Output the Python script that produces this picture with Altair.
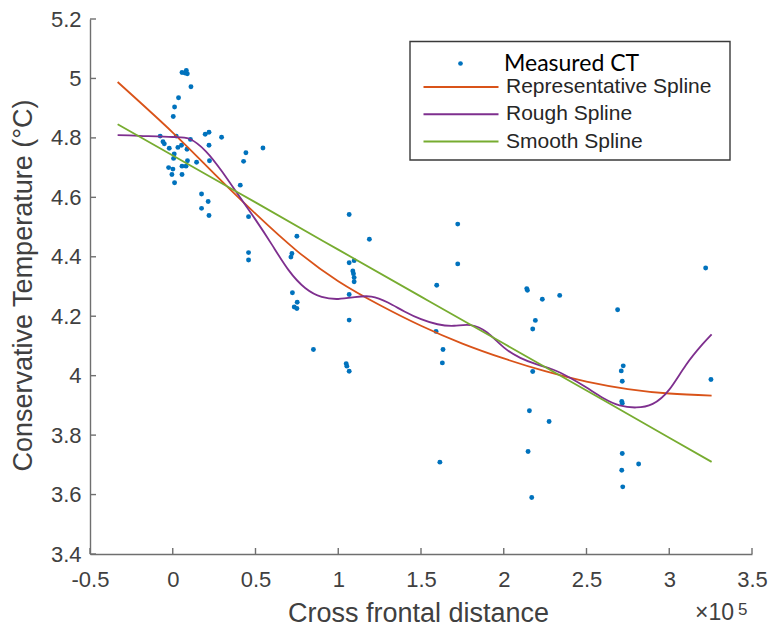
import altair as alt
import pandas as pd

# Measured CT (x in units of 1e5)
ct_x = [0.056, 0.082, 0.088, 0.074, 0.110, 0.035, 0.011, 0.003, -0.076, -0.059,
        -0.051, -0.021, 0.021, 0.031, 0.053, 0.086, 0.107, 0.196, 0.219, 0.295,
        0.219, 0.009, 0.005, -0.025, 0.001, -0.005, 0.056, 0.080, 0.089, 0.144,
        0.056, 0.011, 0.222, 0.442, 0.428, 0.545, 0.408, 0.174, 0.214, 0.174,
        0.219, 0.458, 0.458, 0.458, 0.750, 0.720, 0.714, 0.723, 0.752, 0.734,
        0.750, 0.850, 1.066, 1.066, 1.096, 1.088, 1.092, 1.096, 1.096, 1.066,
        1.066, 1.048, 1.052, 1.066, 1.188,
        1.722, 1.722, 1.595, 1.591, 1.633, 1.629, 1.614,
        2.139, 2.143, 2.233, 2.338, 2.191, 2.175, 2.175, 2.155, 2.274, 2.147, 2.169,
        2.688, 2.722, 2.710, 2.716, 2.713, 2.716, 2.716, 2.815, 2.713, 2.719,
        3.220, 3.252]
ct_y = [5.020, 5.027, 5.016, 5.018, 4.972, 4.935, 4.904, 4.872, 4.806, 4.787,
        4.780, 4.765, 4.806, 4.768, 4.775, 4.762, 4.795, 4.812, 4.819, 4.802,
        4.775, 4.746, 4.731, 4.700, 4.695, 4.677, 4.705, 4.705, 4.723, 4.718,
        4.677, 4.649, 4.723, 4.750, 4.721, 4.766, 4.641, 4.611, 4.586, 4.563,
        4.539, 4.535, 4.414, 4.389, 4.469, 4.411, 4.399, 4.279, 4.247, 4.231,
        4.226, 4.088, 4.542, 4.380, 4.387, 4.352, 4.343, 4.330, 4.316, 4.273,
        4.187, 4.040, 4.032, 4.015, 4.459,
        4.510, 4.376, 4.304, 4.149, 4.088, 4.043, 3.709,
        4.293, 4.287, 4.257, 4.270, 4.186, 4.157, 4.014, 3.882, 3.846, 3.745, 3.590,
        4.222, 4.033, 4.016, 3.981, 3.913, 3.907, 3.738, 3.703, 3.682, 3.626,
        4.362, 3.987]

rep_x = [-0.333, 0.0, 0.25, 0.5, 0.75, 1.0, 1.25, 1.5, 1.75, 2.0, 2.25, 2.5, 2.75, 3.0, 3.256]
rep_y = [4.988, 4.818, 4.680, 4.545, 4.420, 4.318, 4.238, 4.168, 4.108, 4.058,
         4.015, 3.980, 3.955, 3.940, 3.933]

rough_x = [-0.333, -0.2, 0.0, 0.1, 0.2, 0.3, 0.4, 0.5, 0.6, 0.7, 0.8, 0.9, 1.0,
           1.1, 1.2, 1.3, 1.4, 1.5, 1.6, 1.7, 1.8, 1.9, 2.0, 2.1, 2.2, 2.3, 2.4,
           2.5, 2.6, 2.7, 2.8, 2.9, 3.0, 3.1, 3.2, 3.256]
rough_y = [4.809, 4.807, 4.803, 4.797, 4.755, 4.685, 4.605, 4.525, 4.440, 4.355,
           4.295, 4.265, 4.258, 4.264, 4.266, 4.246, 4.216, 4.190, 4.173, 4.168,
           4.170, 4.145, 4.095, 4.060, 4.038, 4.020, 3.993, 3.960, 3.925, 3.900,
           3.893, 3.905, 3.953, 4.035, 4.105, 4.139]

smooth_x = [-0.333, 0.0, 0.5, 1.0, 1.5, 2.0, 2.5, 3.0, 3.256]
smooth_y = [4.846, 4.741, 4.583, 4.424, 4.266, 4.108, 3.950, 3.791, 3.710]

series_names = ["Representative Spline", "Rough Spline", "Smooth Spline"]
series_colors = ["#D95319", "#7E2F8E", "#77AC30"]

x_ticks = [-0.5, 0.0, 0.5, 1.0, 1.5, 2.0, 2.5, 3.0, 3.5]
y_ticks = [3.4, 3.6, 3.8, 4.0, 4.2, 4.4, 4.6, 4.8, 5.0, 5.2]

W, H = 662, 535
AXC = "#6f6f6f"
TXT = "#404040"

pts = pd.DataFrame({"x": ct_x, "y": ct_y, "series": "Measured CT"})
frames = []
for name, xs, ys in zip(series_names, [rep_x, rough_x, smooth_x], [rep_y, rough_y, smooth_y]):
    frames.append(pd.DataFrame({"x": xs, "y": ys, "series": name}))
lines = pd.concat(frames, ignore_index=True)

xscale = alt.Scale(domain=[-0.5, 3.5], nice=False, zero=False)
yscale = alt.Scale(domain=[3.4, 5.2], nice=False, zero=False)

x_axis = alt.Axis(values=x_ticks, labelExpr="toString(datum.value)", title="Cross frontal distance",
                  titleX=328, titleY=67, titleBaseline="alphabetic", titleAlign="center",
                  titleFontSize=27, labelPadding=15, labelFlush=False)
y_axis = alt.Axis(values=y_ticks, labelExpr="toString(datum.value)",
                  title="Conservative Temperature (°C)", titleX=-67, titleY=266,
                  titleAngle=270, titleBaseline="middle", titleAlign="center",
                  titleFontSize=27, labelPadding=9, labelFlush=False)

points = alt.Chart(pts).mark_point(filled=True, size=24, opacity=1, color="#0072BD").encode(
    x=alt.X("x:Q", scale=xscale, axis=x_axis),
    y=alt.Y("y:Q", scale=yscale, axis=y_axis),
    shape=alt.Shape("series:N", scale=alt.Scale(domain=["Measured CT"], range=["circle"]),
                    legend=alt.Legend(orient="none", legendX=359, legendY=33, title=None,
                                      labelFont="Lato", labelFontSize=23, labelColor="black",
                                      symbolFillColor="#0072BD", symbolStrokeColor="#0072BD",
                                      symbolSize=22, symbolOffset=0, labelOffset=32,
                                      labelLimit=300, padding=0)),
)

curves = alt.Chart(lines).mark_line(strokeWidth=1.8, interpolate="natural").encode(
    x=alt.X("x:Q", scale=xscale),
    y=alt.Y("y:Q", scale=yscale),
    color=alt.Color("series:N", scale=alt.Scale(domain=series_names, range=series_colors),
                    legend=alt.Legend(orient="none", legendX=330, legendY=57, title=None,
                                      symbolType="M-3.75,0H3.75", symbolSize=400,
                                      symbolStrokeWidth=2, labelFont="Liberation Sans",
                                      labelFontSize=21, labelColor="#262626",
                                      symbolOffset=30, labelOffset=34, rowPadding=6.3,
                                      labelLimit=300, padding=0)),
)

xt = alt.Chart(pd.DataFrame({"x": x_ticks})).mark_rule(color=AXC, strokeWidth=1.4).encode(
    x=alt.X("x:Q", scale=xscale), y=alt.value(H), y2=alt.value(H - 6))
yt = alt.Chart(pd.DataFrame({"y": y_ticks})).mark_rule(color=AXC, strokeWidth=1.4).encode(
    y=alt.Y("y:Q", scale=yscale), x=alt.value(0), x2=alt.value(6))

box = alt.Chart(pd.DataFrame({"a": [0]})).mark_rect(fill="white", stroke="#3a3a3a", strokeWidth=1.4).encode(
    x=alt.value(320), x2=alt.value(640), y=alt.value(22.5), y2=alt.value(141))

exp_base = alt.Chart(pd.DataFrame({"t": ["×10"]})).mark_text(
    font="Liberation Sans", fontSize=23, color=TXT, align="left", baseline="alphabetic").encode(
    text="t:N", x=alt.value(605), y=alt.value(601))
exp_pow = alt.Chart(pd.DataFrame({"t": ["5"]})).mark_text(
    font="Liberation Sans", fontSize=17, color=TXT, align="left", baseline="alphabetic").encode(
    text="t:N", x=alt.value(648), y=alt.value(596))

chart = alt.layer(points, curves, xt, yt, box, exp_base, exp_pow).properties(
    width=W, height=H,
    autosize=alt.AutoSizeParams(type="none"),
    padding={"left": 90, "top": 19, "right": 21, "bottom": 78},
    background="white",
).configure_view(stroke=None).configure_axis(
    grid=False, domainColor=AXC, domainWidth=1.4, tickSize=0,
    labelFont="Liberation Sans", labelFontSize=22, labelColor=TXT,
    titleFont="Liberation Sans", titleFontSize=25, titleColor=TXT, titleFontWeight="normal",
)

chart.save("out.html", embed_options={"renderer": "svg", "actions": False})
